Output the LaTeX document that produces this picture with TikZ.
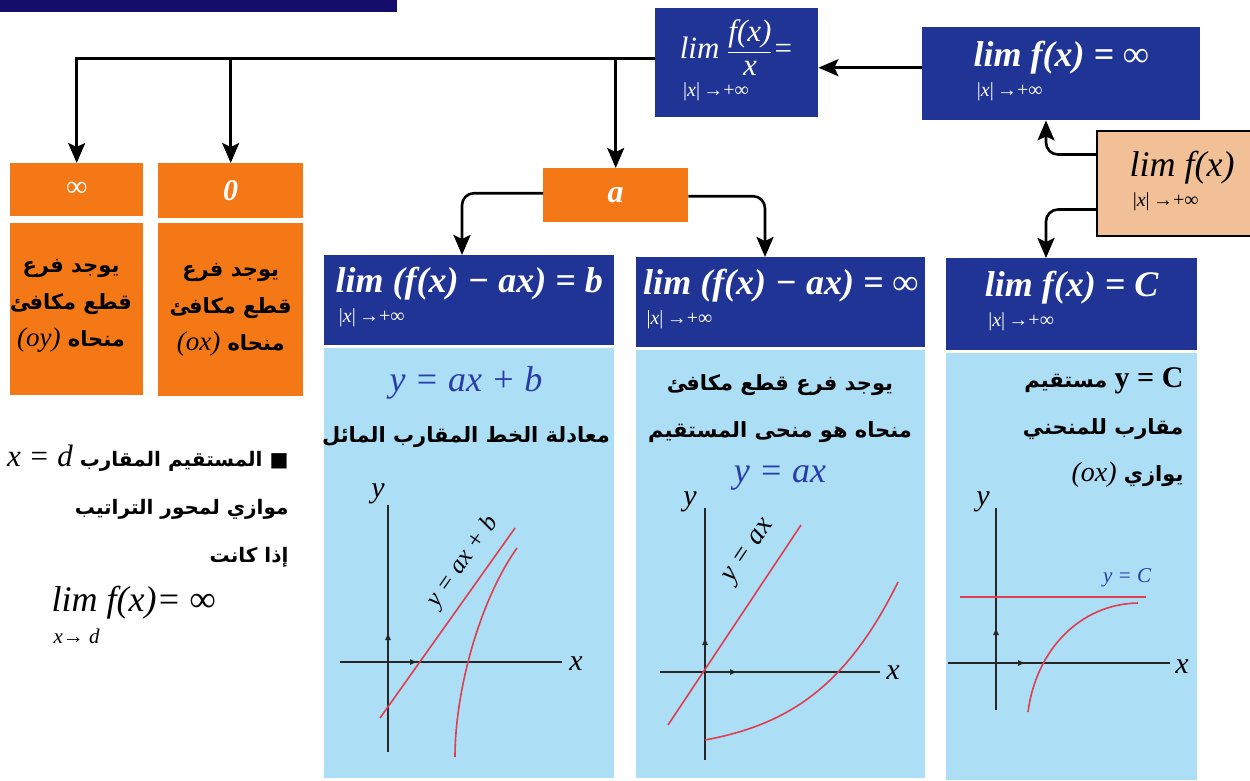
\documentclass[tikz,border=0pt]{standalone}
\usepackage{fontspec}
\setmainfont{Liberation Serif}
\newfontfamily\arabicfont[Script=Arabic]{DejaVu Sans}
\TeXXeTstate=1
\usetikzlibrary{positioning, arrows.meta, calc}
\definecolor{navybar}{RGB}{22, 12, 105}
\definecolor{limblue}{RGB}{32, 52, 150}
\definecolor{limorange}{RGB}{244, 120, 22}
\definecolor{panelblue}{RGB}{172, 222, 246}
\definecolor{peach}{RGB}{242, 192, 150}
\definecolor{curvered}{RGB}{222, 62, 78}
\definecolor{eqblue}{RGB}{40, 60, 170}
\newcommand{\artext}[1]{{\arabicfont\bfseries\beginR #1\endR}}
\newcommand{\ltr}[1]{\beginL{#1}\endL}
\newcommand{\limsub}[2][-8pt]{\begin{tabular}{@{}l@{}}#2\\[#1]{\fontsize{20}{20}\selectfont\mdseries\upshape\,|\textit{x}|\,→+∞}\end{tabular}}

\begin{document}
\begin{tikzpicture}[x=1pt, y=-1pt,
    bluebox/.style={fill=limblue, text=white, anchor=north west, inner sep=0pt,
      font=\bfseries\itshape\fontsize{36}{38}\selectfont},
    orangebox/.style={fill=limorange, text=white, anchor=north west, inner sep=0pt},
    peachbox/.style={fill=peach, draw=black, line width=2pt, anchor=north west, inner sep=0pt,
      font=\itshape\fontsize{36}{38}\selectfont},
    panel/.style={fill=panelblue, anchor=north west, inner sep=0pt},
    artxt/.style={font=\fontsize{21}{37}\selectfont, align=center, text=black},
    link/.style={line width=2.6pt, -{Stealth[length=20pt, width=17pt, inset=4pt]}},
    axis/.style={line width=2.2pt, draw=black!85},
    axismark/.style={line width=1.5pt, draw=black!85, -{Latex[length=8pt, width=6pt]}},
    redcurve/.style={curvered, line width=1.6pt},
    axlabel/.style={font=\itshape\fontsize{30}{32}\selectfont},
    slantlbl/.style={font=\itshape\fontsize{25}{27}\selectfont},
    eqtxt/.style={text=eqblue, font=\itshape\fontsize{36}{38}\selectfont},
  ]
  \useasboundingbox (0,0) rectangle (1250,780);
  \clip (0,0) rectangle (1250,780);
  \fill[white] (0,0) rectangle (1250,780);
  \fill[navybar] (0,0) rectangle (397,12);

  % Top row
  \node[peachbox, minimum width=170pt, minimum height=105pt] (start) at (1096,130) {\limsub{lim f(x)}};
  \node[bluebox, minimum width=278pt, minimum height=93pt] (infbox) at (922,27) {\limsub{lim f(x) = {\mdseries∞}}};
  \node[bluebox, minimum width=163pt, minimum height=109pt, font=\itshape\fontsize{31}{33}\selectfont] (ratio) at (655,8)
    {\limsub[-2pt]{lim ${\displaystyle\frac{\hbox{\itshape f(x)}}{\hbox{\itshape x}}}$=}};

  % Orange results
  \node[orangebox, minimum width=133pt, minimum height=53pt, font=\fontsize{30}{32}\selectfont] (infhead) at (10,163) {∞};
  \node[orangebox, minimum width=145pt, minimum height=55pt, font=\bfseries\itshape\fontsize{30}{32}\selectfont] (zerohead) at (158,163) {0};
  \node[orangebox, minimum width=145pt, minimum height=54pt, font=\bfseries\itshape\fontsize{32}{34}\selectfont] (abox) at (543,168) {a};
  \node[orangebox, minimum width=133pt, minimum height=172pt] (inflow) at (10,223) {};
  \node[orangebox, minimum width=145pt, minimum height=173pt] (zerolow) at (158,223) {};
  \begin{scope}
    \clip (inflow.north west) rectangle (inflow.south east);
    \node[artxt] (inftxt) at (71,306) {\artext{يوجد فرع}\\\artext{قطع مكافئ}\\\artext{منحاه \ltr{\rmfamily\mdseries\itshape\fontsize{27}{29}\selectfont (oy)}}};
  \end{scope}
  \node[artxt] (zerotxt) at (zerolow.center) {\artext{يوجد فرع}\\\artext{قطع مكافئ}\\\artext{منحاه \ltr{\rmfamily\mdseries\itshape\fontsize{27}{29}\selectfont (ox)}}};

  % Limit headers and panels
  \node[bluebox, minimum width=290pt, minimum height=90pt] (diffb) at (324,255) {\limsub{lim (f(x) − ax) = b}};
  \node[bluebox, minimum width=289pt, minimum height=90pt] (diffinf) at (636,257) {\limsub{lim (f(x) − ax) = {\mdseries∞}}};
  \node[bluebox, minimum width=251pt, minimum height=92pt] (cbox) at (946,258) {\limsub{lim f(x) = C}};
  \node[panel, minimum width=290pt, minimum height=430pt] (panelb) at (324,348) {};
  \node[panel, minimum width=289pt, minimum height=428pt] (panelinf) at (636,350) {};
  \node[panel, minimum width=251pt, minimum height=427pt] (panelc) at (946,353) {};

  % Connectors
  \coordinate (split) at ([yshift=4pt]ratio.west);
  \coordinate (sidex) at (1046,0);
  \draw[link] ([yshift=6pt]infbox.west) -- ([yshift=6pt]infbox.west -| ratio.east);
  \draw[link, rounded corners=12pt] ([yshift=29pt]start.west) -| (sidex |- infbox.south);
  \draw[link, rounded corners=12pt] ([yshift=-26pt]start.west) -| (sidex |- cbox.north);
  \draw[link] (split) -| (infhead.north);
  \draw[link] (zerohead.north |- split) -- (zerohead.north);
  \draw[link] (abox.north |- split) -- (abox.north);
  \draw[link, rounded corners=12pt] ([yshift=2pt]abox.west) -| (462,0 |- diffb.north);
  \draw[link, rounded corners=12pt] ([yshift=-1pt]abox.east) -| (765,0 |- diffinf.north);

  % Panel texts
  \node[eqtxt] (eqb) at (466,383) {y = ax + b};
  \node[artxt] (txtb) at (466,437) {\artext{معادلة الخط المقارب المائل}};
  \node[artxt, font=\fontsize{21}{47}\selectfont] (txtinf) at (780,409) {\artext{يوجد فرع قطع مكافئ}\\\artext{منحاه هو منحى المستقيم}};
  \node[eqtxt] (eqinf) at (780,478) {y = ax};
  \node[artxt, align=right, anchor=north east, font=\fontsize{21}{47}\selectfont] (txtc) at (1187,364)
    {\artext{\ltr{\rmfamily\fontsize{30}{32}\selectfont y = C} مستقيم}\\\artext{مقارب للمنحني}\\\artext{يوازي \ltr{\rmfamily\mdseries\itshape\fontsize{28}{30}\selectfont (ox)}}};

  % Vertical asymptote note
  \node[artxt, align=right, anchor=north east, font=\fontsize{20}{48}\selectfont] (vnote) at (292,441)
    {\artext{■ المستقيم المقارب \ltr{\rmfamily\mdseries\itshape\fontsize{31}{33}\selectfont x = d}}\\\artext{موازي لمحور التراتيب}\\\artext{إذا كانت}};
  \node[anchor=west, font=\itshape\fontsize{36}{38}\selectfont] (vlim) at (48,603) {lim f(x)= ∞};
  \node[anchor=west, font=\itshape\fontsize{21}{23}\selectfont] (vsub) at (50,636) {x→ d};

  % Graph: oblique asymptote
  \draw[axis] (388,505) -- (388,752);
  \draw[axis] (340,662) -- (562,662);
  \draw[axismark] (388,652) -- (388,632);
  \draw[axismark] (398,662) -- (418,662);
  \node[axlabel] (yb) at (378,494) {y};
  \node[axlabel] (xb) at (576,664) {x};
  \draw[redcurve] (380,718) -- (515,528);
  \draw[redcurve] (455,757) .. controls (455,690) and (480,600) .. (517,548);
  \node[slantlbl, rotate=55] (lblb) at (463,562) {y = ax + b};

  % Graph: parabolic branch
  \draw[axis] (705,508) -- (705,760);
  \draw[axis] (660,672) -- (880,672);
  \draw[axismark] (705,657) -- (705,637);
  \draw[axismark] (718,672) -- (738,672);
  \node[axlabel] (yinf) at (690,502) {y};
  \node[axlabel] (xinf) at (893,673) {x};
  \draw[redcurve] (668,725) -- (801,525);
  \draw[redcurve] (705,740) .. controls (785,725) and (845,690) .. (898,582);
  \node[slantlbl, rotate=56, font=\itshape\fontsize{28}{30}\selectfont] (lblinf) at (750,552) {y = ax};

  % Graph: horizontal asymptote
  \draw[axis] (996,508) -- (996,710);
  \draw[axis] (948,663) -- (1170,663);
  \draw[axismark] (996,647) -- (996,627);
  \draw[axismark] (1006,663) -- (1026,663);
  \node[axlabel] (yc) at (983,502) {y};
  \node[axlabel] (xc) at (1182,667) {x};
  \draw[redcurve] (960,597) -- (1146,597);
  \draw[redcurve] (1028,712) .. controls (1036,650) and (1080,604) .. (1138,603);
  \node[text=eqblue, font=\itshape\fontsize{21}{23}\selectfont] (lblc) at (1127,578) {y = C};
\end{tikzpicture}
\end{document}
